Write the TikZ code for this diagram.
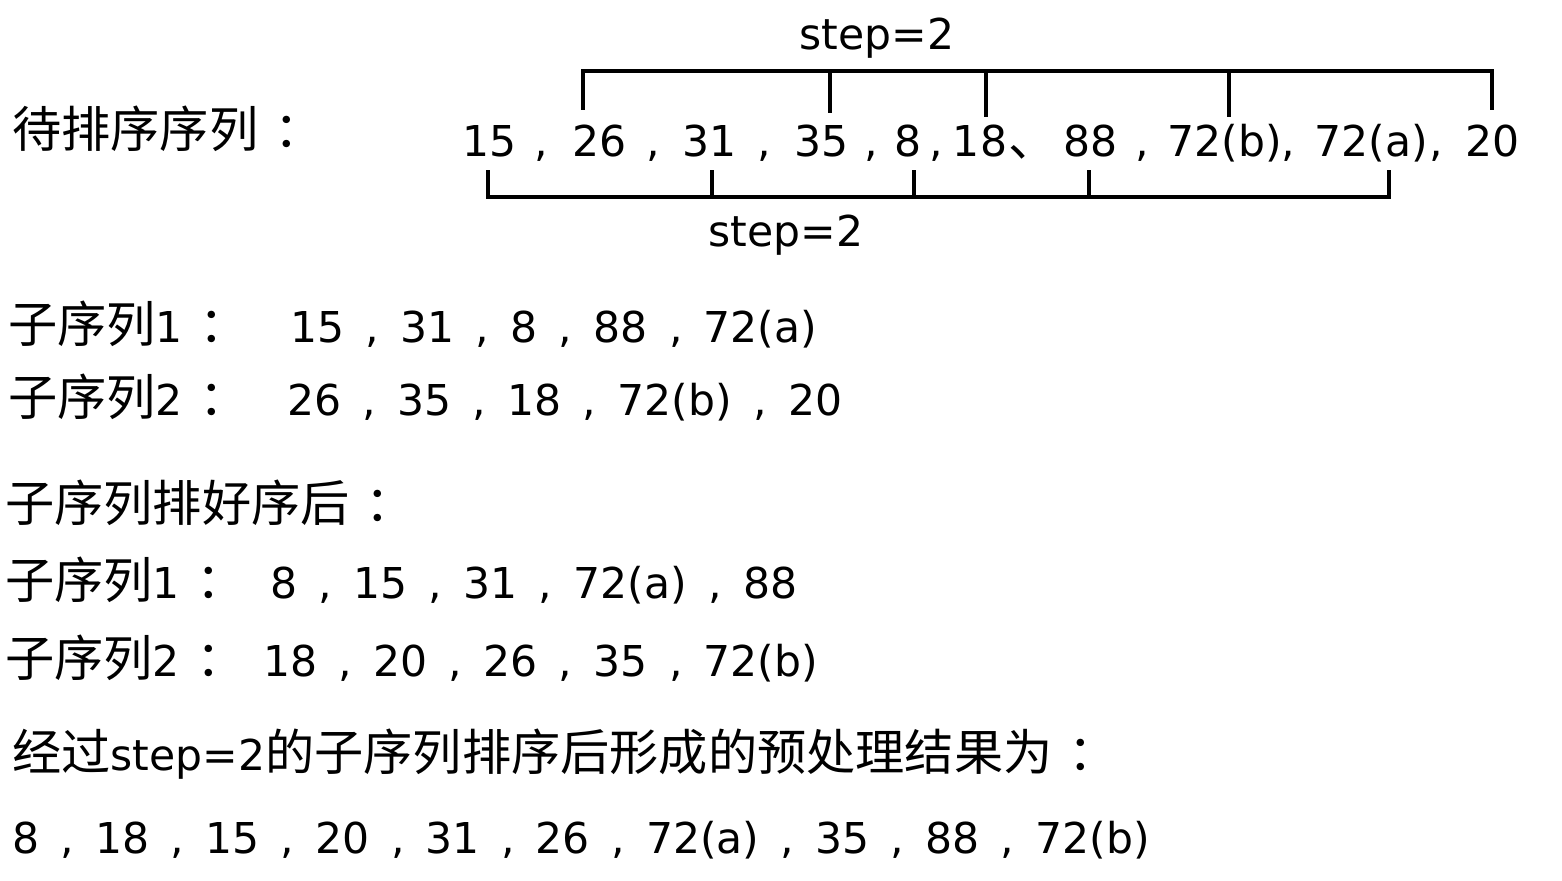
\documentclass[tikz,border=0pt]{standalone}
\usepackage{fontspec}
\setmainfont{DejaVu Sans}
\newfontfamily\lat{DejaVu Sans}
\newfontfamily\cjk{Noto Sans CJK SC}
\usepackage{tikz}
\usetikzlibrary{calc}
\newcommand\ltn[1]{{\lat\fontsize{24.2}{29}\selectfont #1}}
\newcommand\cma{\hspace{.5em},\hspace{.5em}}
\newcommand\cln{\hspace{.33em}：}

\begin{document}
\begin{tikzpicture}[x=0.02cm,y=-0.02cm,
  num node/.style={anchor=base,inner sep=0pt,font=\fontsize{24.2}{29}\selectfont},
  row node/.style={anchor=base west,inner sep=0pt,font=\fontsize{24.2}{29}\selectfont},
  lab node/.style={anchor=base west,inner sep=0pt,font=\fontsize{28}{33}\selectfont\cjk},
  bar/.style={line width=2pt,line cap=rect}]
  \useasboundingbox (0,0) rectangle (1562,881);

  \node[lab node] (l0) at (12,148) {待排序序列\cln};
  \foreach \nm/\x/\t in {n1/489.5/15, n2/600/26, n3/709.5/31, n4/821.5/35, n5/908.5/8,
      n6/980/18, n7/1090.5/88, n8/1224.5/72(b), n9/1371/72(a), n10/1492.5/20}
    \node[num node] (\nm) at (\x,157) {\t};
  \foreach \nm/\x in {s1/541, s2/653, s3/764, s4/871, s5/936, s7/1142, s8/1288, s9/1436}
    \node[num node] (\nm) at (\x,157) {,};
  \node[lab node] (s6) at (1008,157) {、};

  \foreach \nm/\dx/\h in {n2/-17/37, n4/8.5/40, n6/6/44, n8/4.5/44, n10/-0.5/37} {
    \coordinate (top-\nm) at ($(\nm.base)+(\dx,-86)$);
    \draw[bar] (top-\nm) -- ++(0,\h);
  }
  \draw[bar] (top-n2) -- (top-n10);
  \node[num node] (stepA) at (877,50) {step=2};

  \foreach \nm/\dx in {n1/-1.5, n3/2.5, n5/5.5, n7/-1.5, n9/18} {
    \coordinate (bot-\nm) at ($(\nm.base)+(\dx,40)$);
    \draw[bar] (bot-\nm) -- ++(0,-25);
  }
  \draw[bar] (bot-n1) -- (bot-n9);
  \node[num node] (stepB) at (786,247) {step=2};

  \node[lab node] (l1) at (8,343) {子序列\ltn{1}\cln};
  \node[row node] (r1) at (290,343) {15\cma 31\cma 8\cma 88\cma 72(a)};
  \node[lab node] (l2) at (8,416) {子序列\ltn{2}\cln};
  \node[row node] (r2) at (287,416) {26\cma 35\cma 18\cma 72(b)\cma 20};

  \node[lab node] (l3) at (5,522) {子序列排好序后\cln};
  \node[lab node] (l4) at (5,599) {子序列\ltn{1}\cln};
  \node[row node] (r4) at (270,599) {8\cma 15\cma 31\cma 72(a)\cma 88};
  \node[lab node] (l5) at (5,676) {子序列\ltn{2}\cln};
  \node[row node] (r5) at (263,676) {18\cma 20\cma 26\cma 35\cma 72(b)};

  \node[lab node] (l6) at (12,770) {经过\ltn{step=2}的子序列排序后形成的预处理结果为\cln};
  \node[row node] (r6) at (12,853) {8\cma 18\cma 15\cma 20\cma 31\cma 26\cma 72(a)\cma 35\cma 88\cma 72(b)};
\end{tikzpicture}
\end{document}
